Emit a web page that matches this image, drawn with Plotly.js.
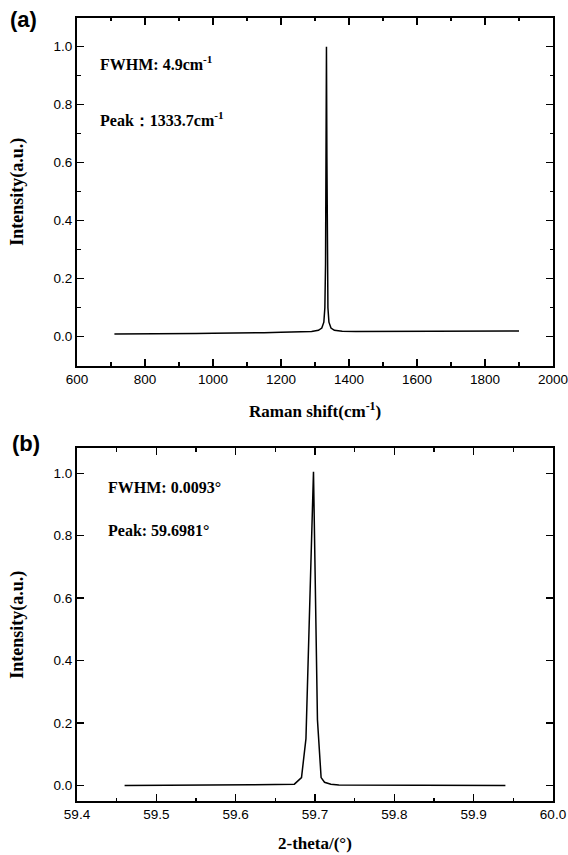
<!DOCTYPE html>
<html>
<head>
<meta charset="utf-8">
<script src="https://cdn.plot.ly/plotly-3.0.1.min.js"></script>
<style>
  html, body { margin: 0; padding: 0; background: #fff; }
  #chart { width: 568px; height: 855px; }
</style>
</head>
<body>
<div id="chart"></div>
<script>
// ---- Panel (a): Raman spectrum ----
const ramanX = [710, 750, 800, 850, 900, 950, 1000, 1050, 1100, 1150, 1200, 1250, 1290, 1310, 1320, 1326, 1329, 1331, 1332.5, 1333.7, 1335, 1336.5, 1338, 1341, 1347, 1357, 1380, 1420, 1500, 1600, 1700, 1800, 1900];
const ramanY = [0.009, 0.009, 0.010, 0.010, 0.011, 0.011, 0.012, 0.012, 0.013, 0.014, 0.015, 0.016, 0.018, 0.022, 0.030, 0.050, 0.10, 0.25, 0.62, 1.0, 0.62, 0.25, 0.10, 0.050, 0.030, 0.022, 0.019, 0.018, 0.018, 0.019, 0.019, 0.020, 0.020];

// ---- Panel (b): XRD rocking curve ----
const xrdX = [59.46, 59.50, 59.54, 59.58, 59.62, 59.65, 59.665, 59.674, 59.683, 59.6886, 59.6957, 59.6981, 59.7031, 59.7077, 59.712, 59.72, 59.73, 59.76, 59.80, 59.84, 59.88, 59.91, 59.94];
const xrdY = [0.000, 0.000, 0.001, 0.000, 0.002, 0.003, 0.004, 0.004, 0.025, 0.15, 0.79, 1.005, 0.21, 0.025, 0.010, 0.004, 0.001, 0.001, 0.000, 0.001, 0.000, 0.001, 0.000];

// Labels
const panelLabels = ['(a)', '(b)'];
const yTitle = 'Intensity(a.u.)';
const xTitleA = 'Raman shift(cm<sup>-1</sup>)';
const xTitleB = '2-theta/(°)';
const notesA = ['FWHM: 4.9cm<sup>-1</sup>', 'Peak：1333.7cm<sup>-1</sup>'];
const notesB = ['FWHM: 0.0093°', 'Peak: 59.6981°'];

const W = 568, H = 855, L = 76.5, R = 15;
const PW = W - L - R;
const px = x => (x - L) / PW;
const py = y => (H - y) / H;

const tickFont = { family: 'Liberation Sans, Arial, sans-serif', size: 13.5, color: '#000' };
const serif = 'Liberation Serif, Times New Roman, serif';

function axisCommon(extra) {
  return Object.assign({
    showline: true, linecolor: '#000', linewidth: 2, mirror: 'allticks',
    ticks: 'inside', ticklen: 7, tickwidth: 1.5, tickcolor: '#000',
    showgrid: false, zeroline: false, tickfont: tickFont, fixedrange: true,
    ticklabeloverflow: 'allow'
  }, extra);
}

const traces = [
  { x: ramanX, y: ramanY, xaxis: 'x', yaxis: 'y', type: 'scatter', mode: 'lines',
    line: { color: '#000', width: 1.5 }, showlegend: false, hoverinfo: 'skip' },
  { x: xrdX, y: xrdY, xaxis: 'x2', yaxis: 'y2', type: 'scatter', mode: 'lines',
    line: { color: '#000', width: 1.5 }, showlegend: false, hoverinfo: 'skip' }
];

const layout = {
  width: W, height: H,
  margin: { l: L, r: R, t: 0, b: 0 },
  paper_bgcolor: '#fff', plot_bgcolor: '#fff',
  xaxis: axisCommon({ anchor: 'y', range: [600, 2000.0001], tick0: 600, dtick: 200,
    minor: { ticks: 'inside', ticklen: 3.5, tickwidth: 1.5, tickcolor: '#000', dtick: 100, showgrid: false } }),
  yaxis: axisCommon({ anchor: 'x', domain: [py(365.7), py(17.7)], range: [-0.1, 1.1], tick0: 0, dtick: 0.2, tickformat: '.1f',
    minor: { ticks: 'inside', ticklen: 3.5, tickwidth: 1.5, tickcolor: '#000', dtick: 0.1, showgrid: false } }),
  xaxis2: axisCommon({ anchor: 'y2', range: [59.4, 60.0], tick0: 59.4, dtick: 0.1, tickformat: '.1f',
    minor: { ticks: 'inside', ticklen: 3.5, tickwidth: 1.5, tickcolor: '#000', dtick: 0.05, showgrid: false } }),
  yaxis2: axisCommon({ anchor: 'x2', domain: [py(801), py(448.3)], range: [-0.05, 1.08], tick0: 0, dtick: 0.2, tickformat: '.1f' }),
  annotations: [
    { text: '<b>' + panelLabels[0] + '</b>', xref: 'paper', yref: 'paper', x: px(22.5), y: py(19.5), xanchor: 'center', yanchor: 'middle', showarrow: false,
      font: { family: 'Liberation Sans, Arial, sans-serif', size: 22, color: '#000' } },
    { text: '<b>' + panelLabels[1] + '</b>', xref: 'paper', yref: 'paper', x: px(25.5), y: py(443), xanchor: 'center', yanchor: 'middle', showarrow: false,
      font: { family: 'Liberation Sans, Arial, sans-serif', size: 22, color: '#000' } },
    { text: '<b>' + notesA[0] + '</b>', xref: 'paper', yref: 'paper', x: px(97.5), y: py(63), xanchor: 'left', yanchor: 'middle', showarrow: false,
      font: { family: serif, size: 16, color: '#000' } },
    { text: '<b>' + notesA[1] + '</b>', xref: 'paper', yref: 'paper', x: px(97.5), y: py(119), xanchor: 'left', yanchor: 'middle', showarrow: false,
      font: { family: serif, size: 16, color: '#000' } },
    { text: '<b>' + notesB[0] + '</b>', xref: 'paper', yref: 'paper', x: px(106), y: py(488), xanchor: 'left', yanchor: 'middle', showarrow: false,
      font: { family: serif, size: 16, color: '#000' } },
    { text: '<b>' + notesB[1] + '</b>', xref: 'paper', yref: 'paper', x: px(106), y: py(530), xanchor: 'left', yanchor: 'middle', showarrow: false,
      font: { family: serif, size: 16, color: '#000' } },
    { text: '<b>' + yTitle + '</b>', xref: 'paper', yref: 'paper', x: px(17.5), y: py(191.7), xanchor: 'center', yanchor: 'middle', textangle: -90, showarrow: false,
      font: { family: serif, size: 18, color: '#000' } },
    { text: '<b>' + yTitle + '</b>', xref: 'paper', yref: 'paper', x: px(17.5), y: py(624.6), xanchor: 'center', yanchor: 'middle', textangle: -90, showarrow: false,
      font: { family: serif, size: 18, color: '#000' } },
    { text: '<b>' + xTitleA + '</b>', xref: 'paper', yref: 'paper', x: px(315), y: py(410), xanchor: 'center', yanchor: 'middle', showarrow: false,
      font: { family: serif, size: 17, color: '#000' } },
    { text: '<b>' + xTitleB + '</b>', xref: 'paper', yref: 'paper', x: px(315), y: py(843), xanchor: 'center', yanchor: 'middle', showarrow: false,
      font: { family: serif, size: 17, color: '#000' } }
  ]
};

Plotly.newPlot('chart', traces, layout, { displayModeBar: false, staticPlot: true });
</script>
</body>
</html>
